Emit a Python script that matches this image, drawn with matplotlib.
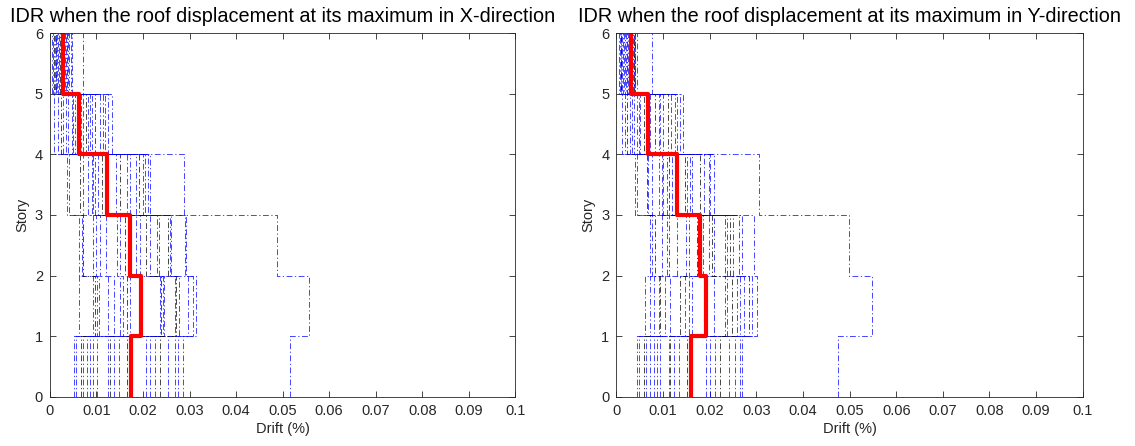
import numpy as np
import matplotlib
matplotlib.use('Agg')
import matplotlib.pyplot as plt

plt.rcParams['font.family'] = ['Liberation Sans', 'DejaVu Sans']

stories = np.arange(0, 7)

# drift (%) of each record, one list per story (record j = j-th entry of every list)
x_s1 = [0.0052, 0.0071, 0.0057, 0.0066, 0.0086, 0.0079, 0.0101, 0.0093, 0.0129, 0.0124, 0.0148,
        0.0137, 0.0206, 0.0166, 0.0225, 0.0214, 0.0254, 0.0236, 0.0275, 0.0286, 0.0268, 0.0516]
x_s2 = [0.0063, 0.0101, 0.0093, 0.0096, 0.0125, 0.0106, 0.0150, 0.0137, 0.0166, 0.0157, 0.0236,
        0.0171, 0.0244, 0.0239, 0.0268, 0.0246, 0.0277, 0.0271, 0.0307, 0.0296, 0.0314, 0.0557]
x_s3 = [0.0068, 0.0063, 0.0093, 0.0071, 0.0107, 0.0100, 0.0144, 0.0120, 0.0161, 0.0150, 0.0194,
        0.0185, 0.0214, 0.0207, 0.0234, 0.0229, 0.0259, 0.0254, 0.0290, 0.0261, 0.0293, 0.0487]
x_s4 = [0.0042, 0.0037, 0.0072, 0.0065, 0.0090, 0.0082, 0.0097, 0.0093, 0.0111, 0.0104, 0.0143,
        0.0125, 0.0165, 0.0150, 0.0186, 0.0172, 0.0204, 0.0191, 0.0215, 0.0200, 0.0211, 0.0288]
x_s5 = [0.0018, 0.0009, 0.0029, 0.0023, 0.0039, 0.0034, 0.0050, 0.0047, 0.0060, 0.0054, 0.0072,
        0.0066, 0.0082, 0.0077, 0.0090, 0.0086, 0.0108, 0.0097, 0.0118, 0.0115, 0.0125, 0.0133]
x_s6 = [0.0006, 0.0004, 0.0010, 0.0008, 0.0014, 0.0012, 0.0018, 0.0016, 0.0022, 0.0020, 0.0026,
        0.0024, 0.0030, 0.0028, 0.0034, 0.0032, 0.0039, 0.0036, 0.0045, 0.0042, 0.0047, 0.0070]
x_mean = [0.0175, 0.0195, 0.0173, 0.0122, 0.0063, 0.0029]

y_s1 = [0.0049, 0.0044, 0.0064, 0.0059, 0.0080, 0.0073, 0.0094, 0.0087, 0.0116, 0.0112, 0.0134,
        0.0123, 0.0193, 0.0151, 0.0212, 0.0201, 0.0241, 0.0223, 0.0266, 0.0255, 0.0269, 0.0476]
y_s2 = [0.0061, 0.0080, 0.0073, 0.0094, 0.0091, 0.0116, 0.0105, 0.0148, 0.0137, 0.0162, 0.0155,
        0.0234, 0.0209, 0.0248, 0.0238, 0.0266, 0.0259, 0.0284, 0.0274, 0.0290, 0.0301, 0.0548]
y_s3 = [0.0076, 0.0073, 0.0098, 0.0084, 0.0112, 0.0109, 0.0150, 0.0130, 0.0173, 0.0155, 0.0198,
        0.0185, 0.0209, 0.0205, 0.0238, 0.0234, 0.0262, 0.0244, 0.0269, 0.0250, 0.0296, 0.0498]
y_s4 = [0.0044, 0.0041, 0.0069, 0.0066, 0.0091, 0.0076, 0.0101, 0.0098, 0.0112, 0.0109, 0.0130,
        0.0119, 0.0151, 0.0148, 0.0162, 0.0159, 0.0187, 0.0180, 0.0201, 0.0198, 0.0209, 0.0305]
y_s5 = [0.0019, 0.0012, 0.0030, 0.0023, 0.0037, 0.0034, 0.0048, 0.0044, 0.0059, 0.0051, 0.0072,
        0.0066, 0.0091, 0.0084, 0.0101, 0.0094, 0.0118, 0.0110, 0.0137, 0.0130, 0.0125, 0.0144]
y_s6 = [0.0007, 0.0005, 0.0011, 0.0009, 0.0015, 0.0013, 0.0019, 0.0017, 0.0023, 0.0021, 0.0027,
        0.0025, 0.0031, 0.0029, 0.0035, 0.0033, 0.0039, 0.0037, 0.0044, 0.0041, 0.0040, 0.0076]
y_mean = [0.0161, 0.0193, 0.0179, 0.0130, 0.0069, 0.0031]

black_records = [3, 8, 13, 17]

titles = ['IDR when the roof displacement at its maximum in X-direction',
          'IDR when the roof displacement at its maximum in Y-direction']
x_ticks = np.round(np.arange(0, 0.101, 0.01), 2)
x_ticklabels = ['0', '0.01', '0.02', '0.03', '0.04', '0.05', '0.06', '0.07', '0.08', '0.09', '0.1']


def stair(drift):
    # vertical segment per story, horizontal jump at each floor level
    xs = np.repeat(drift, 2)
    ys = np.repeat(stories, 2)[1:-1]
    return xs, ys


fig = plt.figure(figsize=(11.35, 4.46), dpi=100)
ax1 = fig.add_axes([0.044, 0.110, 0.410, 0.816])
ax2 = fig.add_axes([0.543, 0.110, 0.411, 0.816])

data = [
    (ax1, [x_s1, x_s2, x_s3, x_s4, x_s5, x_s6], x_mean, titles[0]),
    (ax2, [y_s1, y_s2, y_s3, y_s4, y_s5, y_s6], y_mean, titles[1]),
]

for ax, cols, mean, title in data:
    recs = np.array(cols).T
    for i, rec in enumerate(recs):
        c = 'k' if i in black_records else 'b'
        xs, ys = stair(rec)
        ax.plot(xs, ys, color=c, lw=0.6, ls=(0, (7, 3, 1.5, 3)), alpha=0.85)
    xs, ys = stair(np.array(mean))
    ax.plot(xs, ys, color='red', lw=3)

    ax.set_xlim(0, 0.1)
    ax.set_ylim(0, 6)
    ax.set_xticks(x_ticks)
    ax.set_xticklabels(x_ticklabels)
    ax.set_yticks(stories)
    ax.tick_params(direction='in', top=True, right=True, length=4, width=0.6,
                   colors='0.15', labelsize=10.5, labelcolor='0.15', pad=5)
    for sp in ax.spines.values():
        sp.set_color('0.15')
        sp.set_linewidth(0.6)
    ax.set_xlabel('Drift (%)', fontsize=10.5, color='0.15', labelpad=3)
    ax.set_ylabel('Story', fontsize=10.5, color='0.15', labelpad=4)
    ax.set_title(title, fontsize=14.3, color='black', pad=8)

fig.savefig('out.png', dpi=100)
